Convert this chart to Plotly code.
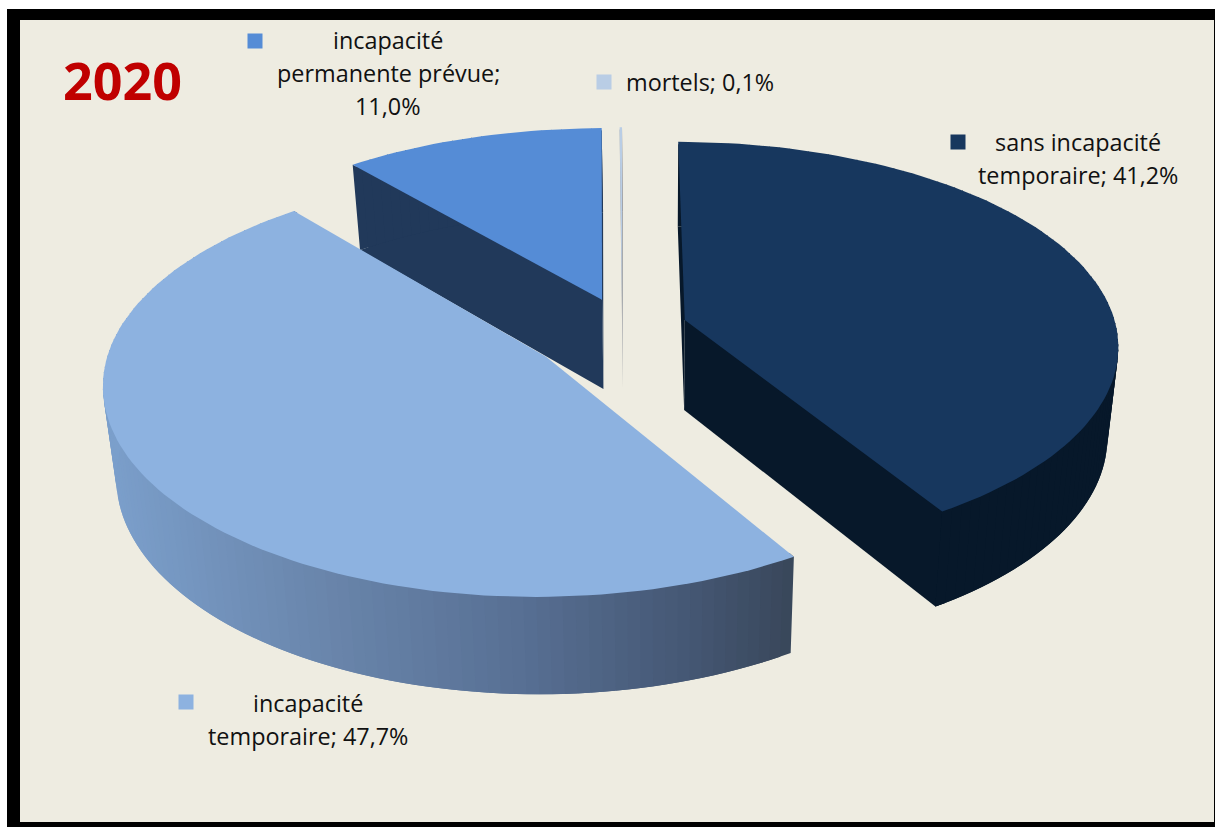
import numpy as np
import plotly.graph_objects as go

categories = ["sans incapacité temporaire", "incapacité temporaire",
              "incapacité permanente prévue", "mortels"]
values = [41.2, 47.7, 11.0, 0.1]
top_colors = ["#17375E", "#8DB2E0", "#558CD6", "#B9CDE5"]
wall_colors = ["#07182A", None, "#21395A", "#A0A3A8"]
# plane offset of every exploded slice (right, away from viewer)
explode_u = [0.146, -0.173, -0.047, 0.0]
explode_v = [0.025, -0.157, 0.129, 0.135]
rim_v = [1.015, 1.01, 1.0, 1.0]
label_lines = [["sans incapacité", "temporaire; 41,2%"],
               ["incapacité", "temporaire; 47,7%"],
               ["incapacité", "permanente prévue;", "11,0%"],
               ["mortels; 0,1%"]]
label_x = [1078, 308, 388, 700]
label_y = [142, 703, 40, 82]
key_x = [958, 186, 255, 604]
key_y = [142, 702, 41, 82]
title = "2020"

# projection of the pie onto the page
CX, CY, A, B, KX, KY = 622.0, 325.0, 431.0, 199.0, 0.115, 0.125
DEPTH, VPX, SHRINK = 90.0, 660.0, 0.024
GRAD_STOPS_X = [100, 320, 520, 700, 795]
GRAD_STOPS_R = [0x7C, 0x6A, 0x58, 0x44, 0x39]
GRAD_STOPS_G = [0xA0, 0x86, 0x70, 0x56, 0x47]
GRAD_STOPS_B = [0xCC, 0xAC, 0x94, 0x72, 0x5A]


def project(u, v):
    u, v = np.asarray(u), np.asarray(v)
    return CX + A * u / (1.0 + KX * v), CY - B * v / (1.0 + KY * v)


def lower(u, v):
    x, y = project(u, v)
    s = 1.0 / (1.0 + KY * np.asarray(v))
    return x + (VPX - x) * SHRINK, y + DEPTH * np.sqrt(s)


def grad(x):
    return "rgb(%d,%d,%d)" % (np.interp(x, GRAD_STOPS_X, GRAD_STOPS_R),
                              np.interp(x, GRAD_STOPS_X, GRAD_STOPS_G),
                              np.interp(x, GRAD_STOPS_X, GRAD_STOPS_B))


def poly(xs, ys, color, name):
    return go.Scatter(x=list(xs), y=list(ys), mode="lines", fill="toself",
                      fillcolor=color, line=dict(color=color, width=0),
                      name=name, hoverinfo="name", showlegend=False)


fig = go.Figure()
edges = np.concatenate([[0], np.cumsum(values)]) / np.sum(values) * 2 * np.pi
order = [2, 3, 0, 1]
for i in order:
    n = max(2, int((edges[i + 1] - edges[i]) / np.radians(1.5)))
    th = np.linspace(edges[i], edges[i + 1], n + 1)
    au, av = explode_u[i], explode_v[i]
    ru = au + np.sin(th)
    rv = av + rim_v[i] * np.cos(th)
    tx, ty = project(ru, rv)
    bx, by = lower(ru, rv)
    ix, iy = project(au + 0.985 * np.sin(th), av + 0.985 * rim_v[i] * np.cos(th))
    ax, ay = project(au, av)
    abx, aby = lower(au, av)
    mx, my = project(au + 0.5 * np.sin(th[n // 2]), av + 0.5 * np.cos(th[n // 2]))
    wall = wall_colors[i]
    if wall:
        # cut faces reach under the top face and over the next wall strip so that no seam shows
        fig.add_trace(poly([mx, tx[1], bx[1], bx[0], abx, ax], [my, ty[1], by[1], by[0], aby, ay],
                           wall, categories[i]))
        fig.add_trace(poly([mx, tx[-2], bx[-2], bx[-1], abx, ax], [my, ty[-2], by[-2], by[-1], aby, ay],
                           wall, categories[i]))
    # outer wall: overlapping strips, painted in angle order
    for k in range(n):
        e = min(k + 2, n)
        fig.add_trace(poly([ix[k], ix[e], tx[e], bx[e], bx[k], tx[k]],
                           [iy[k], iy[e], ty[e], by[e], by[k], ty[k]],
                           wall or grad((tx[k] + tx[k + 1]) / 2), categories[i]))
    fig.add_trace(poly([ax] + list(tx), [ay] + list(ty), top_colors[i], categories[i]))

# legend keys
fig.add_trace(go.Scatter(x=key_x, y=key_y, mode="markers", hoverinfo="skip", showlegend=False,
                         marker=dict(symbol="square", size=15, color=top_colors, line=dict(width=0))))

LINE_GAP = 33
annotations = [dict(x=122, y=79, text=title, showarrow=False, xref="x", yref="y",
                    font=dict(family="Open Sans", size=52, color="#C00000", weight="bold"))]
for lines, x, y in zip(label_lines, label_x, label_y):
    for j, line in enumerate(lines):
        annotations.append(dict(x=x, y=y + j * LINE_GAP, text=line, showarrow=False, xref="x", yref="y",
                                font=dict(family="Open Sans", size=23.4, color="#111111")))

fig.update_layout(
    width=1215, height=827, margin=dict(l=0, r=0, t=0, b=0, pad=0),
    paper_bgcolor="white", plot_bgcolor="white", showlegend=False,
    xaxis=dict(range=[0, 1215], visible=False, fixedrange=True),
    yaxis=dict(range=[827, 0], visible=False, fixedrange=True),
    annotations=annotations,
    shapes=[
        dict(type="rect", x0=7, y0=9, x1=1215, y1=827, fillcolor="black", line=dict(width=0), layer="below"),
        dict(type="rect", x0=20, y0=20, x1=1214, y1=822, fillcolor="#EEECE1", line=dict(width=0), layer="below"),
    ],
)
fig.write_html("out.html", config=dict(displayModeBar=False),
               post_script="document.body.style.margin='0';document.body.style.overflow='hidden';")
